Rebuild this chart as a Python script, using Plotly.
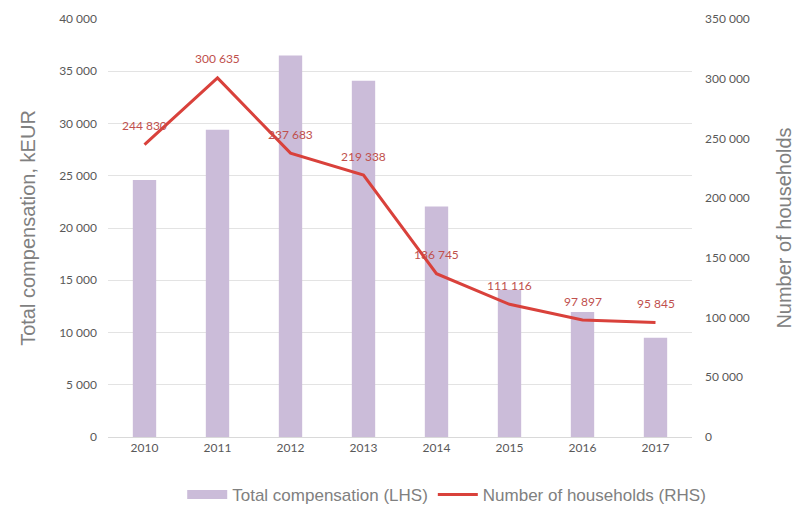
import plotly.graph_objects as go

years = ["2010", "2011", "2012", "2013", "2014", "2015", "2016", "2017"]
compensation_keur = [24600, 29400, 36500, 34100, 22050, 14100, 11950, 9500]
households = [244830, 300635, 237683, 219338, 136745, 111116, 97897, 95845]

left_ticks = list(range(0, 40001, 5000))
right_ticks = list(range(0, 350001, 50000))

BAR_COLOR = "#cbbcd9"
LINE_COLOR = "#d9413b"

def fmt(v):
    return f"{v:,}".replace(",", " ")

tick_font = dict(family="Lato, Open Sans, sans-serif", size=12, color="#595959")
title_font = dict(family="Liberation Sans, Arial, sans-serif", size=20, color="#808080")

fig = go.Figure()

fig.add_trace(go.Bar(
    x=years, y=compensation_keur, name="Total compensation (LHS)",
    marker=dict(color=BAR_COLOR, line=dict(width=0)),
    width=0.32, yaxis="y", showlegend=False,
))

# wide swatch for the bar series in the legend
fig.add_trace(go.Scatter(
    x=[years[0]], y=[None], name="Total compensation (LHS)",
    mode="lines", line=dict(color=BAR_COLOR, width=9), yaxis="y",
))

fig.add_trace(go.Scatter(
    x=years, y=households, name="Number of households (RHS)",
    mode="lines", line=dict(color=LINE_COLOR, width=3),
    yaxis="y2",
))

for i, v in enumerate(households):
    fig.add_annotation(
        x=i, y=v, xref="x", yref="y2", text=fmt(v), showarrow=False,
        yshift=19, font=dict(family="Lato, Open Sans, sans-serif", size=12, color="#c0504d"),
    )

fig.update_layout(
    width=800, height=513,
    margin=dict(l=108, r=108, t=19, b=76),
    paper_bgcolor="white", plot_bgcolor="white",
    showlegend=True,
    legend=dict(
        orientation="h", x=0.58, xanchor="center",
        yref="container", y=0.0, yanchor="bottom",
        font=dict(family="Liberation Sans, Arial, sans-serif", size=17, color="#808080"),
        tracegroupgap=0, itemwidth=40,
    ),
    xaxis=dict(
        type="category", showgrid=False, showline=True, linecolor="#d9d9d9",
        linewidth=1, ticks="", tickfont=tick_font,
    ),
    yaxis=dict(
        range=[0, 40000], tickvals=left_ticks, ticktext=[fmt(v) for v in left_ticks],
        showgrid=True, gridcolor="#e3e3e3", gridwidth=1, zeroline=False,
        tickfont=tick_font, ticklabelstandoff=10, automargin=False,
        title=dict(text="Total compensation, kEUR", font=title_font, standoff=18),
    ),
    yaxis2=dict(
        range=[0, 350000], tickvals=right_ticks, ticktext=[fmt(v) for v in right_ticks],
        overlaying="y", side="right", showgrid=False, zeroline=False,
        tickfont=tick_font, ticklabelstandoff=12, automargin=False,
        title=dict(text="Number of households", font=title_font, standoff=28),
    ),
)

fig.write_html("out.html")
